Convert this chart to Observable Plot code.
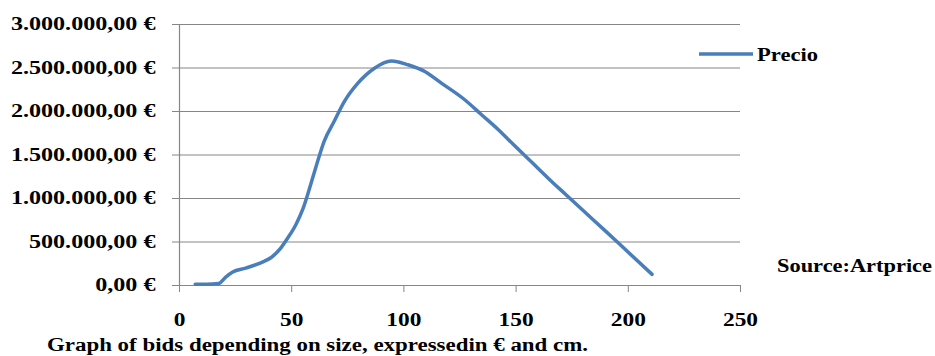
<!DOCTYPE html>
<html>
<head>
<meta charset="utf-8">
<script src="https://cdn.jsdelivr.net/npm/d3@7"></script>
<script src="https://cdn.jsdelivr.net/npm/@observablehq/plot@0.6"></script>
<style>
  html, body { margin: 0; padding: 0; background: #fff; }
  #chart { width: 935px; height: 356px; overflow: hidden; }
</style>
</head>
<body>
<div id="chart"></div>
<script>
// Size (cm) and price (€)
const sizes  = [7, 12, 17.4, 20.6, 23.7, 29.5, 36.2, 40.7, 45.2, 48.3, 51.9, 55, 58, 61, 64.5, 69, 73.5, 79.5, 86.9, 94.4, 101.8, 109.3, 116.7, 127.1, 134.6, 142.1, 149.5, 157, 164.4, 172, 180, 190, 200, 210.6];
const prices = [15000, 15000, 22000, 97000, 155000, 200000, 261000, 319000, 433000, 548000, 702000, 880000, 1120000, 1380000, 1660000, 1890000, 2116000, 2326000, 2498000, 2580000, 2537000, 2460000, 2326000, 2135000, 1963000, 1791000, 1603000, 1416000, 1231000, 1049000, 859000, 622000, 382000, 128000];
const xTicks = [0, 50, 100, 150, 200, 250];
const yTicks = [0, 500000, 1000000, 1500000, 2000000, 2500000, 3000000];
const seriesName = "Precio";
const sourceText = "Source:Artprice";
const captionText = "Graph of bids depending on size, expressedin € and cm.";

const data = sizes.map((x, i) => ({x, y: prices[i]}));
const locale = d3.formatLocale({decimal: ",", thousands: ".", grouping: [3], currency: ["", " €"]});
const fmt = locale.format("$,.2f");

const grid = "#868686";
const blue = "#4a7ebb";
const font = "'Liberation Serif', 'Times New Roman', serif";

const plot = Plot.plot({
  width: 935,
  height: 356,
  marginTop: 24,
  marginBottom: 71,
  marginLeft: 179,
  marginRight: 195,
  style: {fontFamily: font, fontSize: "18px", fontWeight: "bold", color: "#000", background: "#fff"},
  x: {domain: [0, 250]},
  y: {domain: [0, 3000000]},
  marks: [
    Plot.gridY(yTicks, {stroke: grid, strokeOpacity: 1, strokeWidth: 1}),
    Plot.ruleX([0], {stroke: grid, strokeWidth: 1.2}),
    Plot.ruleY([0], {stroke: grid, strokeWidth: 1.2}),
    Plot.axisX(xTicks, {tickSize: 7, tickPadding: 21, stroke: grid, fill: "#000", label: null, fontWeight: "bold"}),
    Plot.axisY(yTicks, {tickSize: 7, tickPadding: 17, tickFormat: fmt, stroke: grid, fill: "#000", label: null, fontWeight: "bold"}),
    Plot.line(data, {x: "x", y: "y", stroke: blue, strokeWidth: 3.5, curve: "monotone-x"})
  ]
});

// Stretch tick labels horizontally like the reference
plot.querySelectorAll('g[aria-label="y-axis tick label"] text').forEach(t => {
  const tr = t.getAttribute("transform");
  if (tr) t.setAttribute("transform", tr + " scale(1.34,1)");
});
plot.querySelectorAll('g[aria-label="x-axis tick label"] text').forEach(t => {
  const tr = t.getAttribute("transform");
  if (tr) t.setAttribute("transform", tr + " scale(1.3,1)");
});

const svg = d3.select(plot);
const g = svg.append("g").attr("font-family", font).attr("font-weight", "bold")
  .attr("font-size", 18).attr("fill", "#000").attr("text-anchor", "start");
// legend
svg.append("line").attr("x1", 699).attr("x2", 753).attr("y1", 54).attr("y2", 54)
  .attr("stroke", blue).attr("stroke-width", 3.5);
g.append("text").attr("x", 757).attr("y", 61).attr("textLength", 61).attr("lengthAdjust", "spacingAndGlyphs").text(seriesName);
// source
g.append("text").attr("x", 777).attr("y", 272).attr("textLength", 155).attr("lengthAdjust", "spacingAndGlyphs").text(sourceText);
// caption
g.append("text").attr("x", 47).attr("y", 351).attr("textLength", 541).attr("lengthAdjust", "spacingAndGlyphs").text(captionText);

document.getElementById("chart").appendChild(plot);
</script>
</body>
</html>
